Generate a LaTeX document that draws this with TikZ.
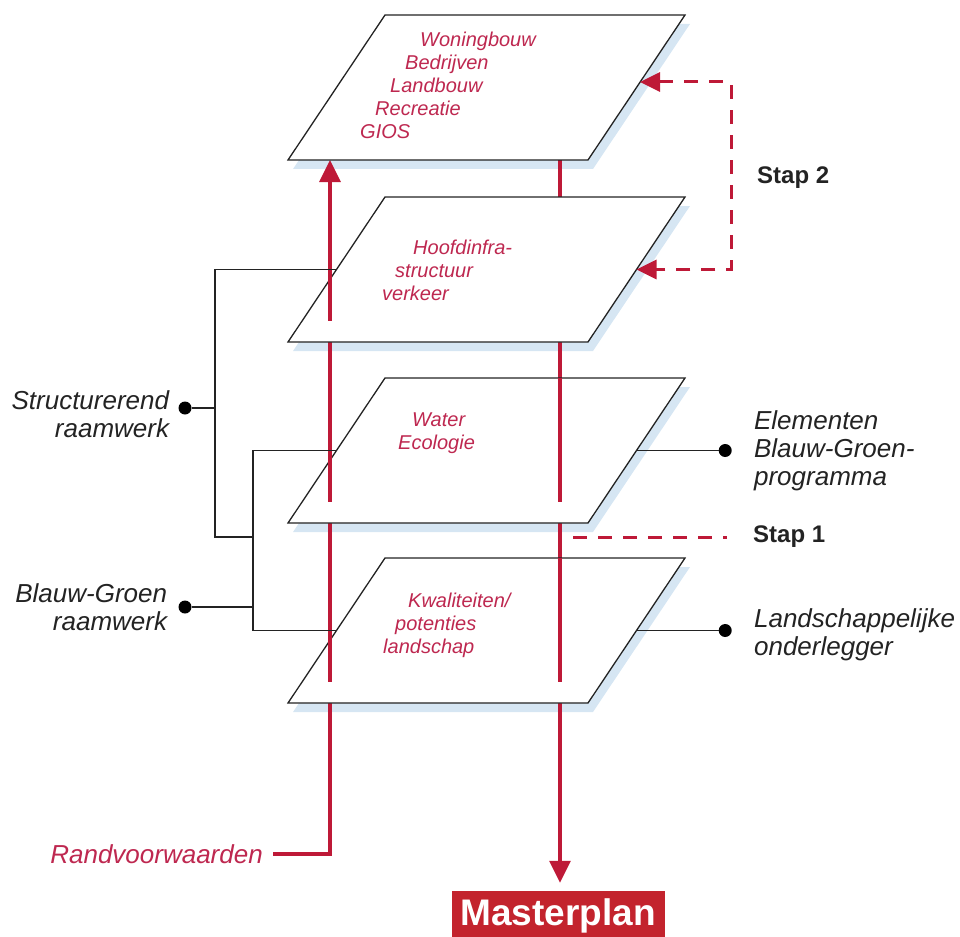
\documentclass[tikz,border=0pt]{standalone}
\usepackage{fontspec}
\setmainfont{Liberation Sans}
\usetikzlibrary{positioning, arrows.meta, calc}

\definecolor{planered}{RGB}{190,25,55}
\definecolor{textred}{RGB}{190,40,80}
\definecolor{shadowblue}{RGB}{214,230,243}
\definecolor{boxred}{RGB}{195,35,45}
\definecolor{inkgray}{RGB}{35,35,35}

\begin{document}
\begin{tikzpicture}[x=1pt, y=-1pt, >={Triangle[length=22pt,width=21pt]},
  plane/.style={draw=inkgray, line width=1.3pt, fill=white},
  shade/.style={fill=shadowblue, draw=none},
  redline/.style={draw=planered, line width=3.2pt},
  stapline/.style={draw=planered, line width=3pt, dash pattern=on 14pt off 11pt},
  conn/.style={draw=inkgray, line width=1.3pt},
  dot/.style={circle, fill=black, inner sep=0pt, minimum size=13pt},
  lbl/.style={font=\fontsize{26}{28}\selectfont\itshape, text=inkgray, inner sep=0pt},
  ptext/.style={font=\fontsize{20}{23}\selectfont\itshape, text=textred, align=left, anchor=north west, inner sep=0pt},
  stap/.style={font=\fontsize{24}{28}\selectfont\bfseries, text=inkgray, inner sep=0pt, anchor=west}]
  \useasboundingbox (0,0) rectangle (960,936);

  % layers: corners, side midpoints and shadow
  \foreach \n/\t in {1/15, 2/197, 3/378, 4/558} {
    \coordinate (p\n-tl) at (385,\t);
    \coordinate (p\n-tr) at (685,\t);
    \coordinate (p\n-br) at (588,\t+145);
    \coordinate (p\n-bl) at (288,\t+145);
    \coordinate (p\n-l) at ($(p\n-tl)!0.5!(p\n-bl)$);
    \coordinate (p\n-r) at ($(p\n-tr)!0.5!(p\n-br)$);
    \fill[shade] ($(p\n-tl)+(5,9)$) -- ($(p\n-tr)+(5,9)$) -- ($(p\n-br)+(5,9)$) -- ($(p\n-bl)+(5,9)$) -- cycle;
  }
  \coordinate (inL) at ($(p1-bl)+(42,0)$);
  \coordinate (inR) at ($(p1-bl)+(272,0)$);

  % red flow behind the layers
  \node[lbl, text=textred, anchor=east] (rv) at (263,854) {Randvoorwaarden};
  \node[fill=boxred, text=white, font=\fontsize{37}{40}\selectfont\bfseries,
    minimum width=213pt, minimum height=50pt, inner sep=0pt] (mp) at (558,916) {Masterplan};
  \draw[redline, ->] ($(rv.east)+(10,0)$) -| (inL);
  \draw[redline, ->, shorten >=8pt] (inR) -- (inR |- mp.north);

  \foreach \n in {1,...,4}
    \draw[plane] (p\n-tl) -- (p\n-tr) -- (p\n-br) -- (p\n-bl) -- cycle;

  % parts of the red lines above the layers
  \foreach \n in {2,3,4}
    \draw[redline] (inL |- p\n-tl) -- ($(inL |- p\n-bl)+(0,-21)$);
  \foreach \n in {3,4}
    \draw[redline] (inR |- p\n-tl) -- ($(inR |- p\n-bl)+(0,-21)$);

  \node[ptext] (t1) at (360,32) {\hspace*{60pt}Woningbouw\\\hspace*{45pt}Bedrijven\\\hspace*{30pt}Landbouw\\\hspace*{15pt}Recreatie\\GIOS};
  \node[ptext] (t2) at (382,240) {\hspace*{31pt}Hoofdinfra-\\\hspace*{13pt}structuur\\verkeer};
  \node[ptext] (t3) at (398,413) {\hspace*{14pt}Water\\Ecologie};
  \node[ptext] (t4) at (383,593) {\hspace*{25pt}Kwaliteiten/\\\hspace*{12pt}potenties\\landschap};

  % frameworks on the left
  \coordinate (j1) at (215,537);
  \coordinate (j2) at (253,537);
  \draw[conn] (p2-l) -| (j1) -- (j2);
  \draw[conn] (p3-l) -| (j2 |- p4-l) -- (p4-l);
  \node[dot] (d1) at (185,408) {};
  \node[dot] (d2) at (185,607) {};
  \draw[conn] (d1) -- (d1 -| j1);
  \draw[conn] (d2) -- (d2 -| j2);
  \node[lbl, align=right, left=9pt of d1, yshift=-6pt] (sr) {Structurerend\\raamwerk};
  \node[lbl, align=right, left=11pt of d2] (bg) {Blauw-Groen\\raamwerk};

  % elements on the right
  \node[dot, right=82pt of p3-r] (d3) {};
  \node[dot, right=82pt of p4-r] (d4) {};
  \draw[conn] (p3-r) -- (d3);
  \draw[conn] (p4-r) -- (d4);
  \node[lbl, align=left, right=22pt of d3] (eb) {Elementen\\Blauw-Groen-\\programma};
  \node[lbl, align=left, right=22pt of d4, yshift=-4pt] (lo) {Landschappelijke\\onderlegger};

  % steps
  \node[stap] (st2) at (757,178) {Stap 2};
  \node[stap] (st1) at (753,537) {Stap 1};
  \coordinate (s2a) at (640,82);
  \coordinate (s2c) at (731,82);
  \coordinate (s1a) at (573,537);
  \draw[stapline, {Triangle[length=20pt,width=19pt]}-{Triangle[length=20pt,width=19pt]}] (s2a) -- (s2c) |- (p2-r);
  \draw[stapline] (s1a) -- ($(st1.west)+(-26,0)$);
\end{tikzpicture}
\end{document}
